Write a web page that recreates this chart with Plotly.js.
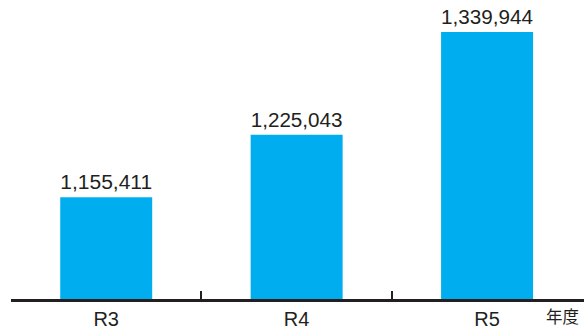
<!DOCTYPE html>
<html>
<head>
<meta charset="utf-8">
<script src="https://cdn.plot.ly/plotly-3.0.1.min.js"></script>
<style>
  html, body { margin: 0; padding: 0; background: #ffffff; }
  #chart { width: 584px; height: 329px; }
</style>
</head>
<body>
<div id="chart"></div>
<script>
// Fiscal years and yearly totals
const years = ['R3', 'R4', 'R5'];
const totals = [1155411, 1225043, 1339944];
const unitLabel = '年度';

const LATIN = '"Liberation Sans", Arial, sans-serif';
const CJK = '"Noto Sans CJK JP", sans-serif';
const INK = '#231f20';
const BAR = '#00aeef';

const bars = {
  type: 'bar',
  x: years,
  y: totals,
  marker: { color: BAR, line: { width: 0 } },
  text: totals.map(v => v.toLocaleString('en-US')),
  textposition: 'outside',
  textfont: { family: LATIN, size: 21.5, color: INK },
  cliponaxis: false,
  hoverinfo: 'skip'
};

const layout = {
  width: 584,
  height: 329,
  margin: { l: 11, r: 0, t: 10, b: 30 },
  paper_bgcolor: '#ffffff',
  plot_bgcolor: '#ffffff',
  showlegend: false,
  bargap: 0.517,
  xaxis: {
    type: 'category',
    range: [-0.5, 2.509],
    showline: true,
    linecolor: INK,
    linewidth: 3,
    ticks: '',
    ticklabelstandoff: 0,
    showgrid: false,
    zeroline: false,
    tickfont: { family: LATIN, size: 20, color: INK },
    fixedrange: true
  },
  // separator ticks between the year groups
  xaxis2: {
    overlaying: 'x',
    range: [-0.5, 2.509],
    tickvals: [0.5, 1.5],
    ticks: 'inside',
    ticklen: 8,
    tickwidth: 2,
    tickcolor: INK,
    showticklabels: false,
    showgrid: false,
    zeroline: false,
    showline: false,
    anchor: 'y',
    side: 'bottom'
  },
  yaxis: {
    range: [1041577, 1364554],
    visible: false,
    showgrid: false,
    zeroline: false,
    fixedrange: true
  },
  annotations: [{
    text: unitLabel,
    xref: 'paper', yref: 'paper',
    x: 1, y: 0,
    xanchor: 'right', yanchor: 'middle',
    xshift: -4,
    yshift: -17,
    showarrow: false,
    borderpad: 0,
    font: { family: CJK, size: 16.5, color: INK }
  }]
};

// empty trace so the separator axis gets drawn
const sepAxis = { type: 'scatter', x: [], y: [], xaxis: 'x2', yaxis: 'y', hoverinfo: 'skip' };

Plotly.newPlot('chart', [bars, sepAxis], layout, { displayModeBar: false, staticPlot: true });
</script>
</body>
</html>
